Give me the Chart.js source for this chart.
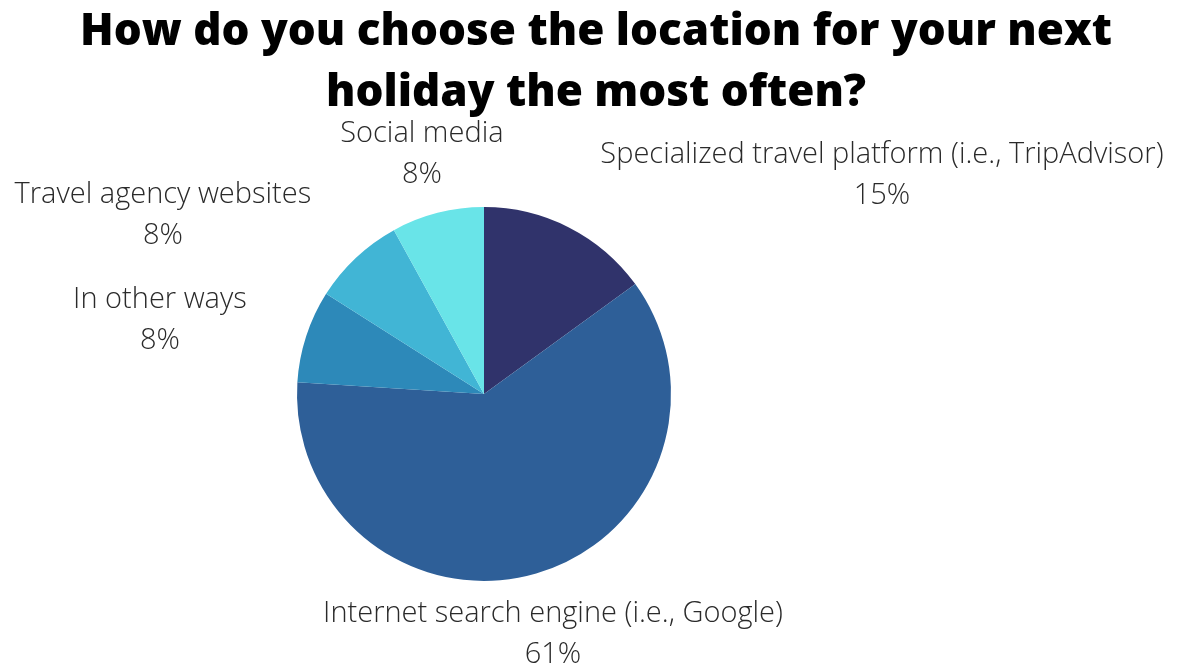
<!DOCTYPE html>
<html>
<head>
<meta charset="utf-8">
<title>Holiday location choice</title>
<script src="https://cdn.jsdelivr.net/npm/chart.js@4.4.1/dist/chart.umd.min.js"></script>
<style>
  html, body { margin: 0; padding: 0; background: #fff; }
  #wrap { position: relative; width: 1178px; height: 668px; }
</style>
</head>
<body>
<div id="wrap"><canvas id="chart-holiday"></canvas></div>
<script>
const titleLines = ['How do you choose the location for your next', 'holiday the most often?'];
const categories = [
  'Specialized travel platform (i.e., TripAdvisor)',
  'Internet search engine (i.e., Google)',
  'In other ways',
  'Travel agency websites',
  'Social media'
];
const shares = [15, 61, 8, 8, 8];
const sliceColors = ['#30336b', '#2e5f98', '#2d89b9', '#41b5d5', '#69e4e8'];

// label block centres, in units of pie radius from the pie centre
const labelOffsets = [
  [2.128, -1.171],
  [0.369, 1.283],
  [-1.733, -0.396],
  [-1.717, -0.955],
  [-0.332, -1.281]
];

const outsideLabels = {
  id: 'outsideLabels',
  afterDraw(chart) {
    const { ctx } = chart;
    const meta = chart.getDatasetMeta(0);
    ctx.save();
    ctx.textAlign = 'center';
    ctx.textBaseline = 'middle';

    // title
    ctx.fillStyle = '#000';
    ctx.font = '800 44px "Open Sans"';
    ctx.fillText(titleLines[0], 596, 32);
    ctx.fillText(titleLines[1], 596, 93);

    // category + percentage labels
    ctx.fillStyle = '#2a2a2a';
    ctx.font = '300 29px "Open Sans"';
    meta.data.forEach((arc, i) => {
      const r = arc.outerRadius;
      const x = arc.x + labelOffsets[i][0] * r;
      const y = arc.y + labelOffsets[i][1] * r;
      ctx.fillText(categories[i], x, y - 20.5);
      ctx.fillText(shares[i] + '%', x, y + 20.5);
    });
    ctx.restore();
  }
};

new Chart(document.getElementById('chart-holiday'), {
  type: 'pie',
  data: {
    labels: categories,
    datasets: [{
      data: shares,
      backgroundColor: sliceColors,
      borderWidth: 0,
      hoverOffset: 0
    }]
  },
  options: {
    responsive: true,
    maintainAspectRatio: false,
    animation: false,
    layout: { padding: { left: 297, right: 507, top: 207, bottom: 87 } },
    plugins: {
      legend: { display: false },
      tooltip: { enabled: false }
    }
  },
  plugins: [outsideLabels]
});
</script>
</body>
</html>
